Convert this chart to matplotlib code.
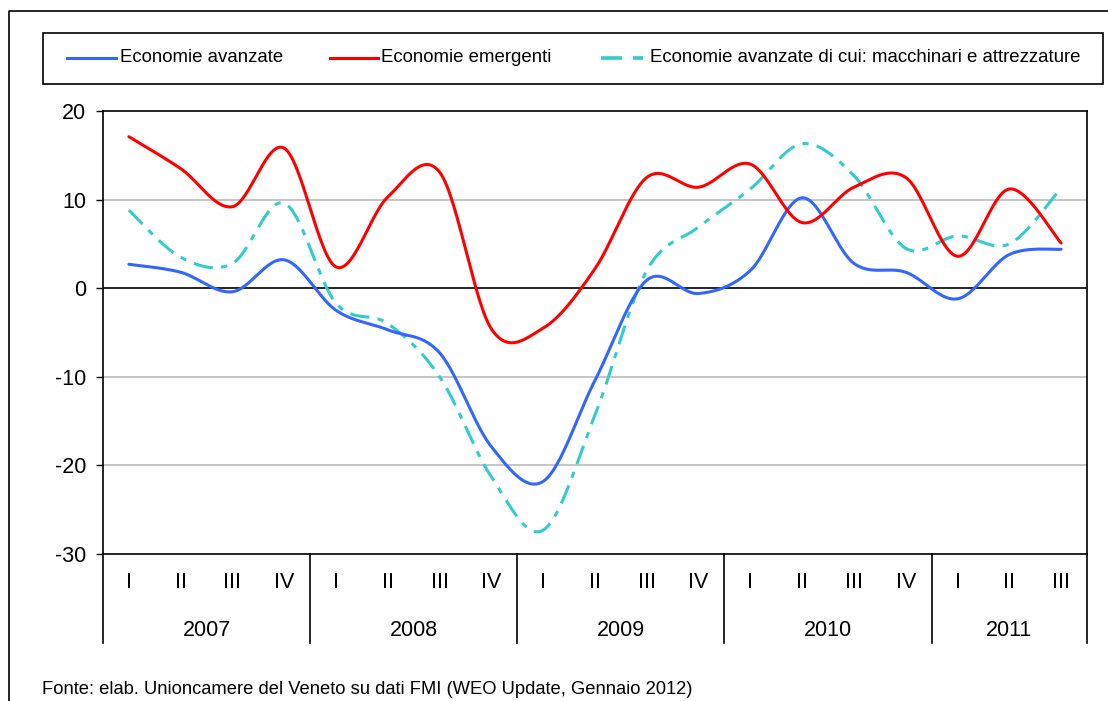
import numpy as np
import matplotlib
matplotlib.use("Agg")
import matplotlib.pyplot as plt
from matplotlib.lines import Line2D
from matplotlib.patches import Rectangle

plt.rcParams['font.family'] = ['Liberation Sans', 'DejaVu Sans']
plt.rcParams['lines.scale_dashes'] = False

# ---- data ----
quarters = ["I", "II", "III", "IV"] * 4 + ["I", "II", "III"]
years = ["2007", "2008", "2009", "2010", "2011"]
year_counts = [4, 4, 4, 4, 3]
avanzate = [2.7, 1.8, -0.4, 3.2, -2.5, -4.7, -7.3, -17.9, -21.8, -10.4,
            0.9, -0.6, 2.0, 10.2, 2.8, 1.8, -1.2, 3.8, 4.4]
emergenti = [17.1, 13.5, 9.2, 15.8, 2.4, 10.3, 13.1, -4.6, -4.5, 2.2,
             12.5, 11.4, 14.0, 7.4, 11.4, 12.5, 3.6, 11.2, 5.1]
macchinari = [8.8, 3.5, 2.8, 9.6, -1.7, -4.0, -10.0, -21.3, -27.3, -14.3,
              2.0, 6.9, 11.2, 16.3, 12.7, 4.5, 5.9, 5.0, 11.3]
labels = ["Economie avanzate", "Economie emergenti",
          "Economie avanzate di cui: macchinari e attrezzature"]
fonte = "Fonte: elab. Unioncamere del Veneto su dati FMI (WEO Update, Gennaio 2012)"

C_BLUE = "#3366FF"
C_RED = "#FF0000"
C_CYAN = "#33CCCC"

W, H = 1108, 701
fig = plt.figure(figsize=(W / 100, H / 100), dpi=100)


def fx(x):
    return x / W


def fy(y):
    return 1 - y / H


def smooth(xs, ys, n=30):
    """Catmull-Rom (Excel-like smoothed line) through the data points."""
    P = np.column_stack([xs, ys]).astype(float)
    P = np.vstack([P[0], P, P[-1]])
    out = []
    t = np.linspace(0, 1, n)[:, None]
    for i in range(1, len(P) - 2):
        p0, p1, p2, p3 = P[i - 1], P[i], P[i + 1], P[i + 2]
        c1 = p1 + (p2 - p0) / 6
        c2 = p2 - (p3 - p1) / 6
        seg = ((1 - t) ** 3) * p1 + 3 * ((1 - t) ** 2) * t * c1 + \
            3 * (1 - t) * t ** 2 * c2 + t ** 3 * p2
        out.append(seg if i == 1 else seg[1:])
    out = np.vstack(out)
    return out[:, 0], out[:, 1]


L, R, T, B = 103, 1087, 111, 554
ax = fig.add_axes([fx(L), fy(B), fx(R) - fx(L), fy(T) - fy(B)])

x = np.arange(len(quarters))
ax.set_xlim(-0.5, len(quarters) - 0.5)
ax.set_ylim(-30, 20)
yt = [-30, -20, -10, 0, 10, 20]
ax.set_yticks(yt)
ax.set_yticklabels([str(v) for v in yt], fontsize=15.5)
ax.set_xticks([])
ax.tick_params(axis='y', direction='out', length=5, width=1, pad=7, colors='black')
for v in yt:
    if v not in (0, -30, 20):
        ax.axhline(v, color='#BBBBBB', lw=1.2, zorder=1)
ax.axhline(0, color='black', lw=1.2, zorder=2)
for s in ax.spines.values():
    s.set_color('black')
    s.set_linewidth(1.2)

lw = 2.2
xs, ys = smooth(x, avanzate)
ax.plot(xs, ys, color=C_BLUE, lw=lw, zorder=4, solid_capstyle='round')
xs, ys = smooth(x, emergenti)
ax.plot(xs, ys, color=C_RED, lw=lw, zorder=4, solid_capstyle='round')
xs, ys = smooth(x, macchinari)
ax.plot(xs, ys, color=C_CYAN, lw=lw, zorder=3, dashes=(14, 6, 4.5, 6),
        dash_capstyle='butt')

# category axis (quarters + years)
trans = ax.get_xaxis_transform()
yq = (B - 583) / (B - T)
yy = (B - 631) / (B - T)
ysep = (B - 643) / (B - T)
for i, q in enumerate(quarters):
    ax.text(x[i], yq, q, transform=trans, ha='center', va='center', fontsize=15.5)
start = 0
bounds = [-0.5]
for yr, c in zip(years, year_counts):
    ax.text(start + (c - 1) / 2, yy, yr, transform=trans, ha='center',
            va='center', fontsize=15.5)
    start += c
    bounds.append(start - 0.5)
for b in bounds:
    ax.add_line(Line2D([b, b], [0, ysep], transform=trans, color='black',
                       lw=1.2, clip_on=False))

# legend (drawn manually)
fig.add_artist(Rectangle((fx(43), fy(84)), fx(1103) - fx(43), fy(33) - fy(84),
                         transform=fig.transFigure, fill=False,
                         edgecolor='black', lw=1.2))
ly = fy(57.5)
fig.add_artist(Line2D([fx(67), fx(116)], [ly, ly], transform=fig.transFigure,
                      color=C_BLUE, lw=lw))
fig.text(fx(120), ly, labels[0], fontsize=13.4, va='center', ha='left')
fig.add_artist(Line2D([fx(330), fx(378)], [ly, ly], transform=fig.transFigure,
                      color=C_RED, lw=lw))
fig.text(fx(381), ly, labels[1], fontsize=13.4, va='center', ha='left')
fig.add_artist(Line2D([fx(601), fx(622)], [ly, ly], transform=fig.transFigure,
                      color=C_CYAN, lw=lw + 0.4, solid_capstyle='butt'))
fig.add_artist(Line2D([fx(633), fx(643)], [ly, ly], transform=fig.transFigure,
                      color=C_CYAN, lw=lw + 0.4, solid_capstyle='butt'))
fig.text(fx(650), ly, labels[2], fontsize=13.4, va='center', ha='left')

# outer frame
fig.add_artist(Line2D([fx(9), fx(9), fx(1115)], [fy(710), fy(11), fy(11)],
                      transform=fig.transFigure, color='black', lw=1.2))

fig.text(fx(42), fy(690), fonte, fontsize=13.2, va='center', ha='left')

fig.savefig("out.png", dpi=100)
